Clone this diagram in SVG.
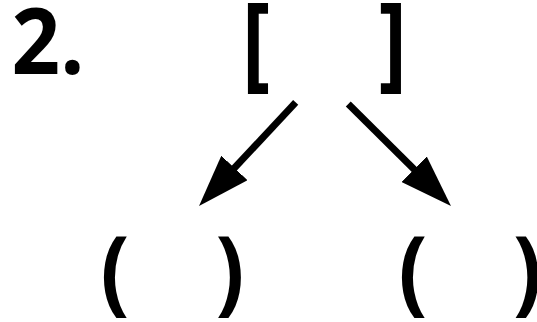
<svg xmlns="http://www.w3.org/2000/svg" width="537" height="322" viewBox="0 0 537 322">
  <style>
    .t { font-family: "Open Sans", "Noto Sans", "DejaVu Sans", sans-serif; font-weight: bold; font-size: 85px; fill: #000; text-anchor: middle; }
    .c { stroke: #000; stroke-width: 7; fill: none; stroke-linecap: butt; }
  </style>
  <defs>
    <marker id="ah" viewBox="0 0 52 36" refX="1" refY="18" markerWidth="52" markerHeight="36" markerUnits="userSpaceOnUse" orient="auto">
      <path d="M0,0 L52,18 L0,36 z" fill="#000"/>
    </marker>
  </defs>
  <g id="label">
    <text class="t" transform="translate(48,74) scale(1,1.07)">2.</text>
  </g>
  <g id="root">
    <text class="t" transform="translate(256,77.8) scale(1,1.22)">[</text>
    <text class="t" transform="translate(392.7,77.8) scale(1,1.22)">]</text>
  </g>
  <g id="left-child">
    <text class="t" transform="translate(115,303.3) scale(1,1.1)">(</text>
    <text class="t" transform="translate(230,303.3) scale(1,1.1)">)</text>
  </g>
  <g id="right-child">
    <text class="t" transform="translate(413,303.3) scale(1,1.1)">(</text>
    <text class="t" transform="translate(527.5,303.3) scale(1,1.1)">)</text>
  </g>
  <g id="connectors">
    <line class="c" x1="295.7" y1="102.3" x2="233.8" y2="168.7" marker-end="url(#ah)"/>
    <line class="c" x1="348.3" y1="104" x2="414.8" y2="170" marker-end="url(#ah)"/>
  </g>
</svg>
